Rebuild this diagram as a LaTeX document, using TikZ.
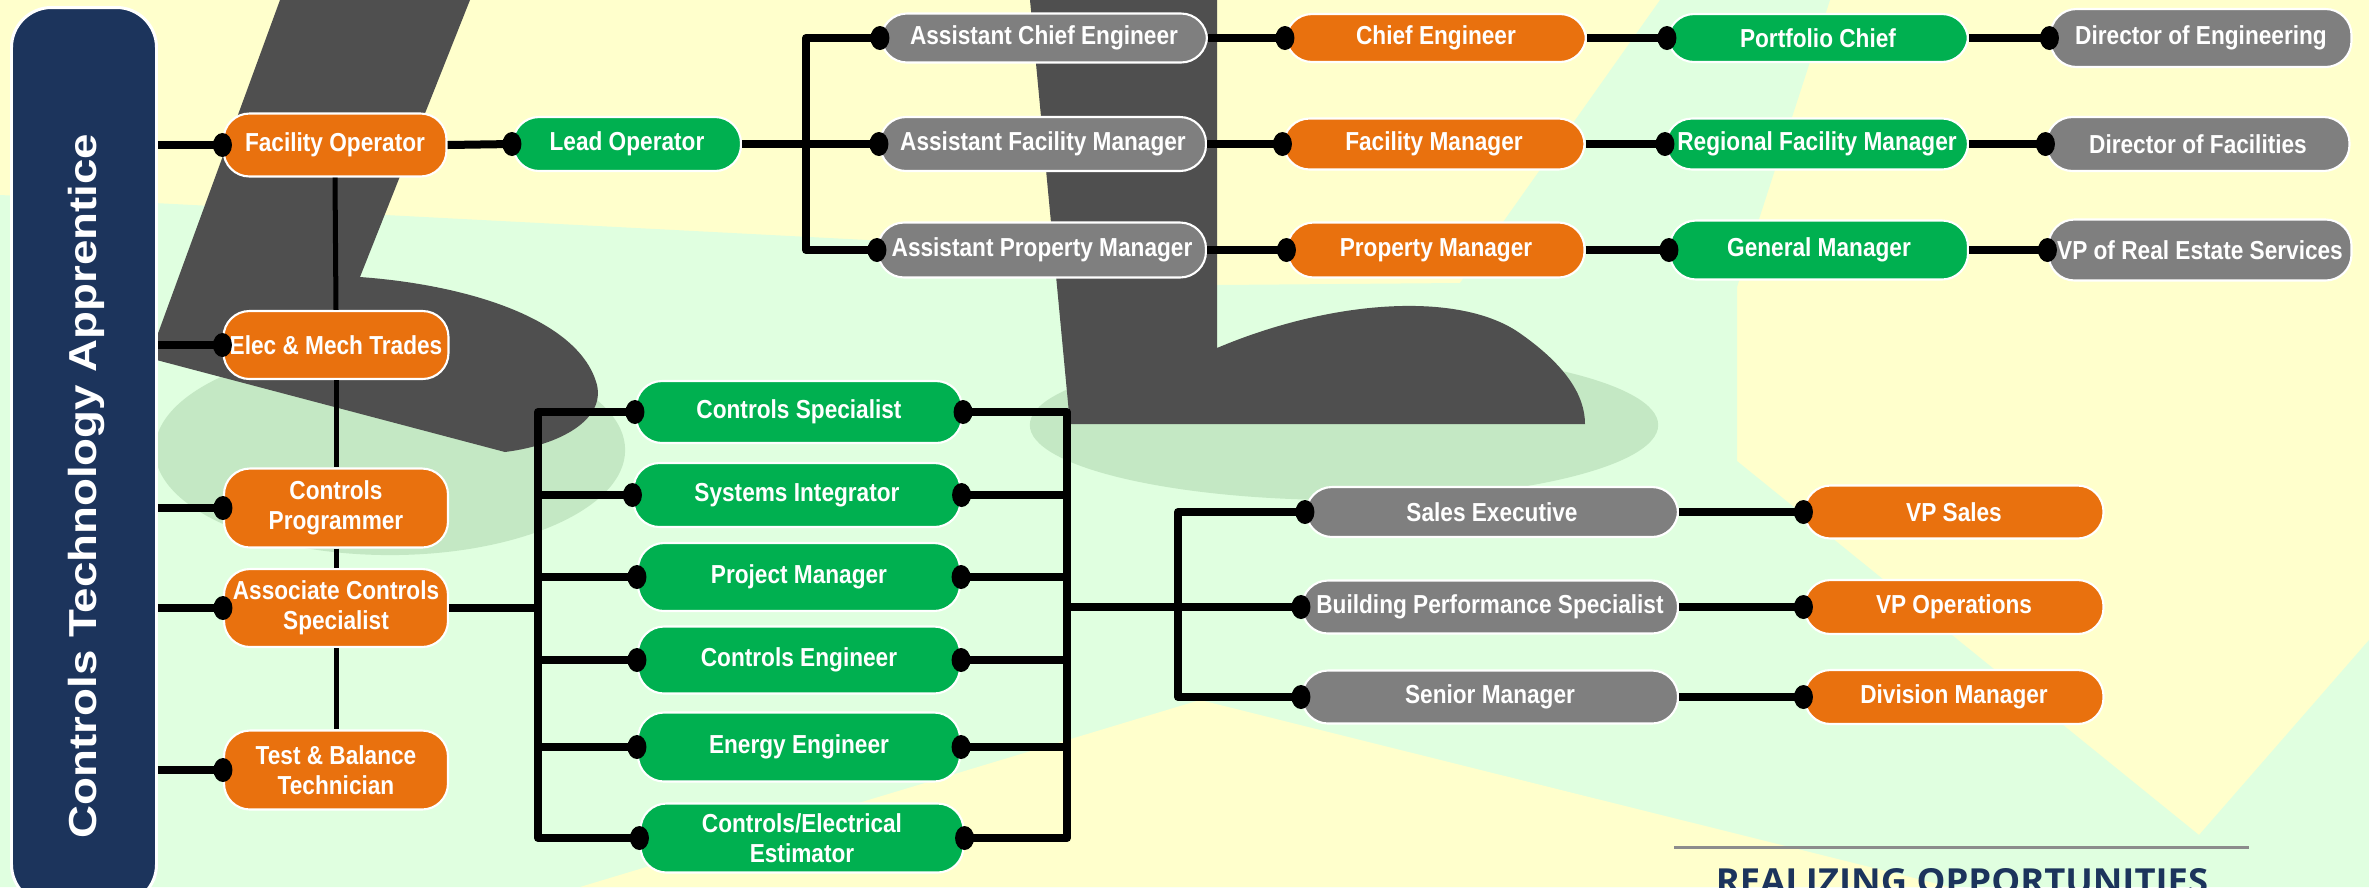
\documentclass[tikz,border=0pt]{standalone}
\usepackage{fontspec}
\setmainfont{Liberation Sans}
\newfontfamily\nodefamily[FakeStretch=0.87]{Liberation Sans}
\newfontfamily\barfamily[FakeStretch=1.17]{Liberation Sans}
\newfontfamily\realfamily{Open Sans}
\definecolor{corange}{RGB}{233,113,14}
\definecolor{cgreen}{RGB}{0,176,80}
\definecolor{cgray}{RGB}{127,127,127}
\definecolor{cnavy}{RGB}{28,52,92}
\definecolor{cdark}{RGB}{79,79,79}
\definecolor{cyellow}{RGB}{255,255,204}
\definecolor{cpale}{RGB}{224,255,224}
\definecolor{cshadow}{RGB}{196,232,196}
\definecolor{crule}{RGB}{140,140,140}
\tikzset{
  sz/.style 2 args={minimum width=#1*0.01cm, minimum height=#2*0.01cm},
  box/.style={rounded corners=0.26cm, draw=white, line width=0.6pt, text=white,
    font=\nodefamily\bfseries\fontsize{7.4}{8.5}\selectfont, align=center, inner sep=0pt},
  boxo/.style={box, fill=corange},
  boxg/.style={box, fill=cgreen},
  boxy/.style={box, fill=cgray},
  ln/.style={line width=0.08cm, line join=round, draw=black},
  vln/.style={line width=0.05cm, draw=black},
}
\newcommand\dotat[1]{\fill[black] (#1) ellipse [x radius=0.095cm, y radius=0.12cm];}
\begin{document}
\begin{tikzpicture}[x=0.01cm, y=-0.01cm]
\useasboundingbox (0,0) rectangle (2369,887);
\begin{scope}
\clip (0,0) rectangle (2369,887);
\fill[cyellow] (0,0) rectangle (2369,887);
\fill[cpale] (0,195) -- (1060,250) -- (1217,285) -- (1460,283) -- (1660,0) -- (1830,0)
  -- (1737,287) -- (1737,461) -- (2199,835) -- (2369,640) -- (2369,887) -- (0,887) -- cycle;
\fill[cyellow] (580,887) -- (1200,700) -- (1950,887) -- cycle;
\fill[cshadow] (390,450) ellipse [x radius=2.35cm, y radius=1.05cm];
\fill[cshadow] (1344,425) ellipse [x radius=3.14cm, y radius=0.75cm];
\fill[cdark] (280,0) -- (470,0) -- (360,277) .. controls (470,285) and (580,320) .. (597,385)
  .. controls (605,420) and (560,445) .. (505,452) -- (149,358) -- cycle;
\fill[cdark] (1030,0) -- (1217,0) -- (1217,348) .. controls (1330,300) and (1460,290) .. (1521,334)
  .. controls (1565,365) and (1585,395) .. (1585,424) -- (1070,424) -- cycle;
\node[fill=cnavy, draw=white, line width=0.85pt, rounded corners=0.4cm, sz={145}{897}, inner sep=0pt] (bar) at (84,456) {};
\node[rotate=90, text=white, font=\barfamily\bfseries\fontsize{11.1}{13}\selectfont, inner sep=0pt] (bartext) at (86,486) {Controls Technology Apprentice};
\node[anchor=north, inner sep=0pt, text=cnavy] (real) at (1962,868) {\resizebox{4.92cm}{0.25cm}{\realfamily\bfseries REALIZING OPPORTUNITIES}};
\end{scope}
\coordinate (rl) at (1674,847);
\coordinate (rr) at (2249,847);
\draw[crule, line width=0.03cm] (rl) -- (rr);
% left column
\node[boxo, sz={223}{63}] (fo) at (335,145) {Facility Operator};
\node[boxo, sz={225}{68}] (emt) at (336,345) {Elec \& Mech Trades};
\node[boxo, sz={224}{79}] (cp) at (336,508) {Controls\\Programmer};
\node[boxo, sz={224}{78}] (acs) at (336,608) {Associate Controls\\Specialist};
\node[boxo, sz={224}{79}] (tbt) at (336,770) {Test \& Balance\\Technician};
\node[boxg, sz={228}{54}] (lo) at (627,144) {Lead Operator};
% top rows
\node[boxy, sz={326}{49}] (ace) at (1044,38) {Assistant Chief Engineer};
\node[boxo, sz={300}{48}] (ce) at (1436,38) {Chief Engineer};
\node[boxg, sz={300}{48}] (pc) at (1818,38) {Portfolio Chief};
\node[boxy, sz={301}{58}] (doe) at (2201,38) {Director of Engineering};
\node[boxy, sz={326}{54}] (afm) at (1043,144) {Assistant Facility Manager};
\node[boxo, sz={301}{51}] (fm) at (1434,144) {Facility Manager};
\node[boxg, sz={302}{51}] (rfm) at (1817,144) {Regional Facility Manager};
\node[boxy, sz={303}{54}] (dof) at (2198,144) {Director of Facilities};
\node[boxy, sz={328}{55}] (apm) at (1042,250) {Assistant Property Manager};
\node[boxo, sz={297}{55}] (pm) at (1436,250) {Property Manager};
\node[boxg, sz={298}{59}] (gm) at (1819,250) {General Manager};
\node[boxy, sz={303}{61}] (vpre) at (2200,250) {VP of Real Estate Services};
% middle column
\node[boxg, sz={326}{62}] (cs) at (799,412) {Controls Specialist};
\node[boxg, sz={327}{64}] (si) at (797,495) {Systems Integrator};
\node[boxg, sz={322}{68}] (pmg) at (799,577) {Project Manager};
\node[boxg, sz={322}{67}] (ceng) at (799,660) {Controls Engineer};
\node[boxg, sz={322}{69}] (ee) at (799,747) {Energy Engineer};
\node[boxg, sz={323}{69}] (cee) at (802,838) {Controls/Electrical\\Estimator};
% sales
\node[boxy, sz={372}{50}] (se) at (1492,512) {Sales Executive};
\node[boxy, sz={376}{53}] (bps) at (1490,607) {Building Performance Specialist};
\node[boxy, sz={376}{53}] (sm) at (1490,697) {Senior Manager};
\node[boxo, sz={299}{53}] (vps) at (1954,512) {VP Sales};
\node[boxo, sz={299}{54}] (vpo) at (1954,607) {VP Operations};
\node[boxo, sz={299}{54}] (dm) at (1954,697) {Division Manager};
% connectors: bar to left column
\foreach \nn in {fo,emt,cp,acs,tbt} {\draw[ln] (bar.east |- \nn.west) -- (\nn.west); \dotat{\nn.west}}
\draw[vln] (fo.south) -- (emt.north);
\draw[vln] (emt.south) -- (cp.north);
\draw[vln] (cp.south) -- (acs.north);
\draw[vln] (acs.south) -- (tbt.north);
% lead operator
\draw[ln] (fo.east) -- (lo.west); \dotat{lo.west}
\coordinate (b1) at (806,144);
\draw[ln] (lo.east) -- (afm.west); \dotat{afm.west}
\draw[ln] (ace.west) -- (b1 |- ace.west) -- (b1 |- apm.west) -- (apm.west);
\dotat{ace.west} \dotat{apm.west}
% rows
\draw[ln] (ace.east) -- (ce.west); \dotat{ce.west}
\draw[ln] (ce.east) -- (pc.west); \dotat{pc.west}
\draw[ln] (pc.east) -- (doe.west); \dotat{doe.west}
\draw[ln] (afm.east) -- (fm.west); \dotat{fm.west}
\draw[ln] (fm.east) -- (rfm.west); \dotat{rfm.west}
\draw[ln] (rfm.east) -- (dof.west); \dotat{dof.west}
\draw[ln] (apm.east) -- (pm.west); \dotat{pm.west}
\draw[ln] (pm.east) -- (gm.west); \dotat{gm.west}
\draw[ln] (gm.east) -- (vpre.west); \dotat{vpre.west}
% middle buses
\coordinate (b2) at (538,608);
\draw[ln] (acs.east) -- (b2 |- acs.east);
\draw[ln] (cs.west) -- (b2 |- cs.west) -- (b2 |- cee.west) -- (cee.west);
\foreach \nn in {si,pmg,ceng,ee} {\draw[ln] (b2 |- \nn.west) -- (\nn.west);}
\foreach \nn in {cs,si,pmg,ceng,ee,cee} {\dotat{\nn.west}}
\coordinate (b3) at (1067,605);
\draw[ln] (cs.east) -- (b3 |- cs.east) -- (b3 |- cee.east) -- (cee.east);
\foreach \nn in {si,pmg,ceng,ee} {\draw[ln] (\nn.east) -- (b3 |- \nn.east);}
\foreach \nn in {cs,si,pmg,ceng,ee,cee} {\dotat{\nn.east}}
\coordinate (b4) at (1178,607);
\draw[ln] (b3 |- bps.west) -- (bps.west);
\draw[ln] (se.west) -- (b4 |- se.west) -- (b4 |- sm.west) -- (sm.west);
\dotat{se.west} \dotat{bps.west} \dotat{sm.west}
\draw[ln] (se.east) -- (vps.west); \dotat{vps.west}
\draw[ln] (bps.east) -- (vpo.west); \dotat{vpo.west}
\draw[ln] (sm.east) -- (dm.west); \dotat{dm.west}
\end{tikzpicture}
\end{document}
